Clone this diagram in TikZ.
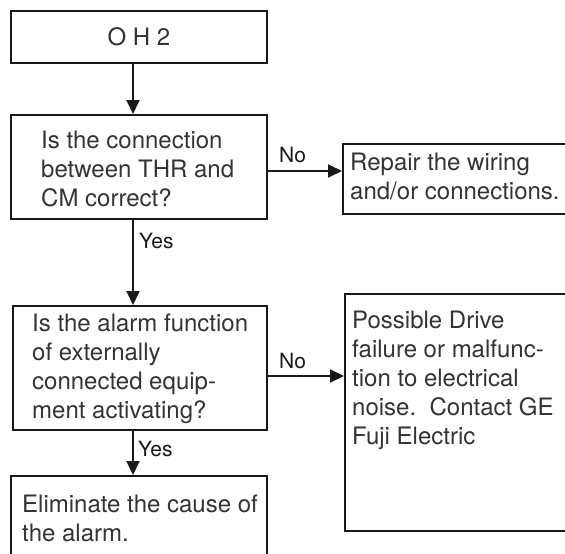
\documentclass[tikz,border=0pt]{standalone}
\usepackage{fontspec}
\setmainfont{TeX Gyre Heros}
\usetikzlibrary{arrows.meta}
\newcommand\mlines[1]{\begin{tabular}[t]{@{}l@{}}#1\end{tabular}}
\begin{document}
\begin{tikzpicture}[x=1pt,y=-1pt,
 box/.style={draw=black!90, line width=1.9pt, rectangle, inner sep=0pt, anchor=north west},
 txt/.style={anchor=base west, inner sep=0pt, text=black!80, font=\fontsize{24}{29}\selectfont},
 lbl/.style={anchor=base west, inner sep=0pt, text=black!90, font=\fontsize{21}{25}\selectfont},
 arr/.style={line width=1.9pt, draw=black!90, -{Triangle[length=14pt,width=13pt]}}]
\useasboundingbox (0,0) rectangle (565,554);
\clip (0,0) rectangle (565,554);
% boxes
\node[box, minimum width=256pt, minimum height=52pt] (oh2) at (10,10) {};
\node[box, minimum width=256pt, minimum height=104pt] (q1) at (10,114) {};
\node[box, minimum width=300pt, minimum height=70pt] (r1) at (342,143) {};
\node[box, minimum width=254pt, minimum height=124pt] (q2) at (12,305) {};
\node[box, minimum width=300pt, minimum height=237pt] (r2) at (344,293) {};
\node[box, minimum width=256pt, minimum height=130pt] (e1) at (10,475) {};
% texts
\node[txt, anchor=center] (oh2t) at (oh2.center) {O H 2};
\node[txt] (q1t) at (41,148) {\mlines{Is the connection\\between THR and\\CM correct?}};
\node[txt] (r1t) at (350,170) {\mlines{Repair the wiring\\and/or connections.}};
\node[txt] (q2t) at (32,331) {\mlines{Is the alarm function\\of externally\\connected equip-\\ment activating?}};
\node[txt] (r2t) at (352,328) {\mlines{Possible Drive\\failure or malfunc-\\tion to electrical\\noise.\ \ Contact GE\\Fuji Electric}};
\node[txt] (e1t) at (22,512) {\mlines{Eliminate the cause of\\the alarm.}};
% connectors
\coordinate (cx) at (133,0);
\coordinate (n1) at (0,171);
\coordinate (n2) at (0,376);
\draw[arr] (oh2.south -| cx) -- (q1.north -| cx);
\draw[arr] (q1.south -| cx) -- (q2.north -| cx);
\draw[arr] (q2.south -| cx) -- (e1.north -| cx);
\draw[arr] (q1.east |- n1) -- (r1.west |- n1);
\draw[arr] (q2.east |- n2) -- (r2.west |- n2);
% labels
\node[lbl] (no1) at (279,162) {No};
\node[lbl] (no2) at (279,368) {No};
\node[lbl] (yes1) at (139,248) {Yes};
\node[lbl] (yes2) at (138,456) {Yes};
\end{tikzpicture}
\end{document}
